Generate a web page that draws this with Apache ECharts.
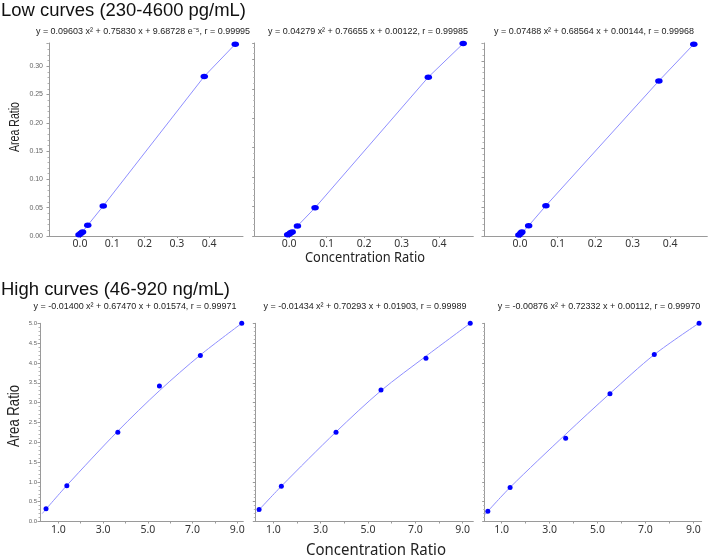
<!DOCTYPE html>
<html><head><meta charset="utf-8">
<script src="https://cdn.jsdelivr.net/npm/echarts@6/dist/echarts.min.js"></script>
<style>html,body{margin:0;padding:0;background:#fff}#c{width:709px;height:560px}</style>
</head><body><div id="c"></div>
<script>
// ---------- data ----------
const lowTitle = 'Low curves (230-4600 pg/mL)';
const highTitle = 'High curves (46-920 ng/mL)';
const lowEquations = [
  'y = 0.09603 x\u00B2 + 0.75830 x + 9.68728 e\u207B\u2075, r = 0.99995',
  'y = 0.04279 x\u00B2 + 0.76655 x + 0.00122, r = 0.99985',
  'y = 0.07488 x\u00B2 + 0.68564 x + 0.00144, r = 0.99968'
];
const highEquations = [
  'y = -0.01400 x\u00B2 + 0.67470 x + 0.01574, r = 0.99971',
  'y = -0.01434 x\u00B2 + 0.70293 x + 0.01903, r = 0.99989',
  'y = -0.00876 x\u00B2 + 0.72332 x + 0.00112, r = 0.99970'
];
const yAxisName = 'Area Ratio';
const xAxisName = 'Concentration Ratio';

const lowXTicks = [0, 0.1, 0.2, 0.3, 0.4];
const lowYTicks = [0, 0.05, 0.10, 0.15, 0.20, 0.25, 0.30];
const highXLabels = [1, 3, 5, 7, 9];
const highXTicks = [1, 2, 3, 4, 5, 6, 7, 8, 9];

// Low curves: points
const low1X = [-0.003, 0.003, 0.008, 0.024, 0.072, 0.385, 0.481];
const low1Y = [0.002, 0.005, 0.007, 0.019, 0.053, 0.282, 0.339];
const low2X = [-0.004, 0.0, 0.004, 0.008, 0.022, 0.069, 0.371, 0.464];
const low2Y = [0.002, 0.0034, 0.0056, 0.0068, 0.017, 0.048, 0.270, 0.327];
const low3X = [-0.003, 0.002, 0.005, 0.023, 0.069, 0.370, 0.463];
const low3Y = [0.0017, 0.0046, 0.0068, 0.0177, 0.052, 0.266, 0.329];
// Low curves: fitted lines
const fitLow1X = [-0.003, 0.024, 0.072, 0.385, 0.481];
const fitLow1Y = [0.0, 0.019, 0.053, 0.282, 0.339];
const fitLow2X = [-0.004, 0.022, 0.069, 0.371, 0.464];
const fitLow2Y = [0.0, 0.017, 0.048, 0.270, 0.327];
const fitLow3X = [-0.003, 0.023, 0.069, 0.370, 0.463];
const fitLow3Y = [0.0, 0.0177, 0.052, 0.266, 0.329];

// High curves: points
const high1X = [0.45, 1.38, 3.66, 5.52, 7.35, 9.2];
const high1Y = [0.32, 0.90, 2.25, 3.42, 4.19, 5.0];
const high2X = [0.40, 1.34, 3.65, 5.55, 7.45, 9.32];
const high2Y = [0.30, 0.89, 2.25, 3.32, 4.12, 5.0];
const high3X = [0.42, 1.35, 3.67, 5.52, 7.37, 9.24];
const high3Y = [0.26, 0.86, 2.10, 3.22, 4.21, 5.0];
// High curves: fitted lines
const fitHigh1X = [0.28, 1.38, 3.66, 5.52, 7.35, 9.2];
const fitHigh1Y = [0.20, 0.91, 2.28, 3.30, 4.20, 5.0];
const fitHigh2X = [0.30, 1.34, 3.65, 5.55, 7.45, 9.32];
const fitHigh2Y = [0.23, 0.89, 2.26, 3.30, 4.17, 5.0];
const fitHigh3X = [0.29, 1.35, 3.67, 5.52, 7.37, 9.3];
const fitHigh3Y = [0.17, 0.86, 2.20, 3.23, 4.21, 5.03];

// ---------- layout ----------
const grids = [
  {left: 49, top: 43, width: 194, height: 193},
  {left: 254.7, top: 43, width: 218.6, height: 193},
  {left: 484, top: 43, width: 223.3, height: 193},
  {left: 40, top: 323.3, width: 203.3, height: 198.2},
  {left: 255.3, top: 323.3, width: 218, height: 198.2},
  {left: 484.7, top: 323.3, width: 217, height: 198.2}
];
const xRanges = [[-0.096, 0.505], [-0.092, 0.491], [-0.096, 0.499], [0.18, 9.27], [0.24, 9.45], [0.29, 9.35]];
const yMax = [0.341, 0.328, 0.331, 5.0, 5.0, 5.0];

const pts = [[low1X, low1Y], [low2X, low2Y], [low3X, low3Y], [high1X, high1Y], [high2X, high2Y], [high3X, high3Y]];
const fits = [[fitLow1X, fitLow1Y], [fitLow2X, fitLow2Y], [fitLow3X, fitLow3Y], [fitHigh1X, fitHigh1Y], [fitHigh2X, fitHigh2Y], [fitHigh3X, fitHigh3Y]];
const zip = (a, b) => a.map((v, i) => [v, b[i]]);

const axisGray = '#9a9a9a';
const xAxes = [], yAxes = [], series = [];
for (let i = 0; i < 6; i++) {
  const low = i < 3;
  xAxes.push({
    type: 'value', gridIndex: i, min: xRanges[i][0], max: xRanges[i][1],
    splitLine: {show: false},
    axisLine: {show: true, onZero: false, lineStyle: {color: axisGray, width: 1}},
    axisTick: {show: true, length: 2, customValues: low ? lowXTicks : highXTicks, lineStyle: {color: axisGray}},
    axisLabel: {
      show: true, customValues: low ? lowXTicks : highXLabels,
      formatter: v => v.toFixed(1), color: '#333', fontSize: 10.5, fontFamily: 'Noto Sans', margin: 3
    }
  });
  yAxes.push({
    type: 'value', gridIndex: i, min: 0, max: yMax[i], interval: low ? 0.05 : 0.5,
    splitLine: {show: false},
    axisLine: {show: true, onZero: false, lineStyle: {color: axisGray, width: 1}},
    axisTick: {show: true, length: 2.5, lineStyle: {color: axisGray}},
    minorTick: {show: true, splitNumber: 5, length: 1.5, lineStyle: {color: '#b5b5b5'}},
    axisLabel: {
      show: i === 0 || i === 3,
      customValues: low ? lowYTicks : undefined,
      showMaxLabel: true,
      formatter: v => low ? v.toFixed(2) : v.toFixed(1),
      color: '#666', fontSize: low ? 7 : 6, fontFamily: 'Liberation Sans', margin: low ? 6 : 3
    }
  });
  series.push({
    type: 'line', xAxisIndex: i, yAxisIndex: i, data: zip(fits[i][0], fits[i][1]),
    symbol: 'none', smooth: low ? false : 0.3, silent: true,
    lineStyle: {color: '#8f8fff', width: 1}, z: 2
  });
  series.push({
    type: 'scatter', xAxisIndex: i, yAxisIndex: i, data: zip(pts[i][0], pts[i][1]),
    symbol: 'circle', symbolSize: low ? [7.5, 5.5] : 5,
    itemStyle: {color: '#0000ff', opacity: 1}, z: 3
  });
}

// ---------- free text, widths fitted to the reference ----------
const ctx = document.createElement('canvas').getContext('2d');
function measure(text, size, fam) { ctx.font = size + 'px "' + fam + '"'; return ctx.measureText(text).width; }
function fitText(text, cx, cy, size, width, fam, color, rot, align) {
  const sx = width / measure(text, size, fam);
  return {
    type: 'text', x: cx, y: cy, scaleX: sx, rotation: rot || 0, silent: true,
    style: {text: text, fontSize: size, fontFamily: fam, fill: color, align: align || 'center', verticalAlign: 'middle'}
  };
}
const eqSize = 9, eqFam = 'Liberation Sans';
const eqScale = 200 / measure(lowEquations[1], eqSize, eqFam);
function eqText(text, cx, cy) {
  return {
    type: 'text', x: cx, y: cy, scaleX: eqScale, silent: true,
    style: {text: text, fontSize: eqSize, fontFamily: eqFam, fill: '#222', align: 'center', verticalAlign: 'middle'}
  };
}
const graphics = [
  fitText(lowTitle, 1, 11, 18, 245, 'Liberation Sans', '#111', 0, 'left'),
  fitText(highTitle, 1, 290, 18, 229, 'Liberation Sans', '#111', 0, 'left'),
  eqText(lowEquations[0], 143, 32),
  eqText(lowEquations[1], 368, 32),
  eqText(lowEquations[2], 594, 32),
  eqText(highEquations[0], 135, 307),
  eqText(highEquations[1], 365, 307),
  eqText(highEquations[2], 599, 307),
  fitText(yAxisName, 15, 127, 15, 50, 'Liberation Sans', '#222', Math.PI / 2),
  fitText(yAxisName, 15, 416, 16, 62, 'Liberation Sans', '#222', Math.PI / 2),
  fitText(xAxisName, 365, 258, 15, 120, 'Noto Sans', '#222'),
  fitText(xAxisName, 376, 550, 17, 140, 'Noto Sans', '#222')
];

const chart = echarts.init(document.getElementById('c'), null, {renderer: 'canvas'});
chart.setOption({
  backgroundColor: '#fff',
  animation: false,
  grid: grids.map(g => Object.assign({outerBoundsMode: 'none', containLabel: false}, g)),
  xAxis: xAxes,
  yAxis: yAxes,
  series: series,
  graphic: graphics
});
</script></body></html>
